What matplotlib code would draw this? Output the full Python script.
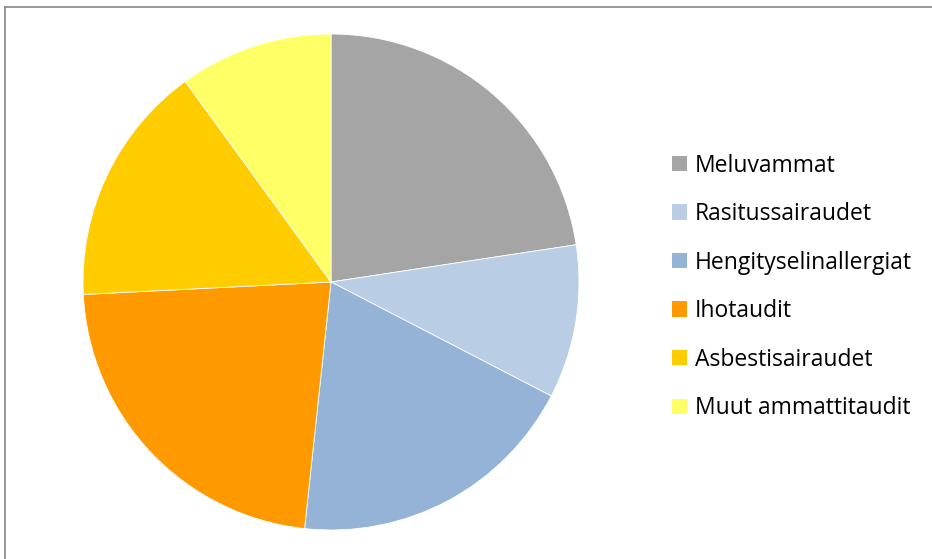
import matplotlib.pyplot as plt
from matplotlib.lines import Line2D

labels = ["Meluvammat", "Rasitussairaudet", "Hengityselinallergiat",
          "Ihotaudit", "Asbestisairaudet", "Muut ammattitaudit"]
values = [22.6, 10.0, 19.1, 22.5, 15.8, 10.0]
colors = ["#A5A5A5", "#B9CDE5", "#95B3D7", "#FF9900", "#FFCC00", "#FFFF66"]

W, H = 932, 559
fig = plt.figure(figsize=(W / 100, H / 100), dpi=100)

# pie area: centre (331, 282), radius 248 px
cx, cy, r = 331, 282, 248
ax = fig.add_axes([(cx - r) / W, (H - cy - r) / H, 2 * r / W, 2 * r / H])
wedges, _ = ax.pie(values, colors=colors, startangle=90, counterclock=False,
                   wedgeprops=dict(edgecolor="white", linewidth=0.6))
ax.set_aspect("equal")
ax.set_xlim(-1, 1)
ax.set_ylim(-1, 1)

leg = fig.legend(wedges, labels, loc="upper left",
                 bbox_to_anchor=(651 / W, 1 - 133 / H),
                 frameon=False, handlelength=0.65, handleheight=0.65,
                 handletextpad=0.35, labelspacing=1.07,
                 prop={"family": "Open Sans", "size": 16.5})
for h in leg.legend_handles:
    h.set_edgecolor("none")

# chart frame (top and left edges visible)
fig.add_artist(Line2D([4.5 / W, 1], [1 - 6.5 / H] * 2, color="#888888", lw=1.2))
fig.add_artist(Line2D([4.5 / W] * 2, [0, 1 - 6.5 / H], color="#888888", lw=1.2))

fig.savefig("out.png", dpi=100)
